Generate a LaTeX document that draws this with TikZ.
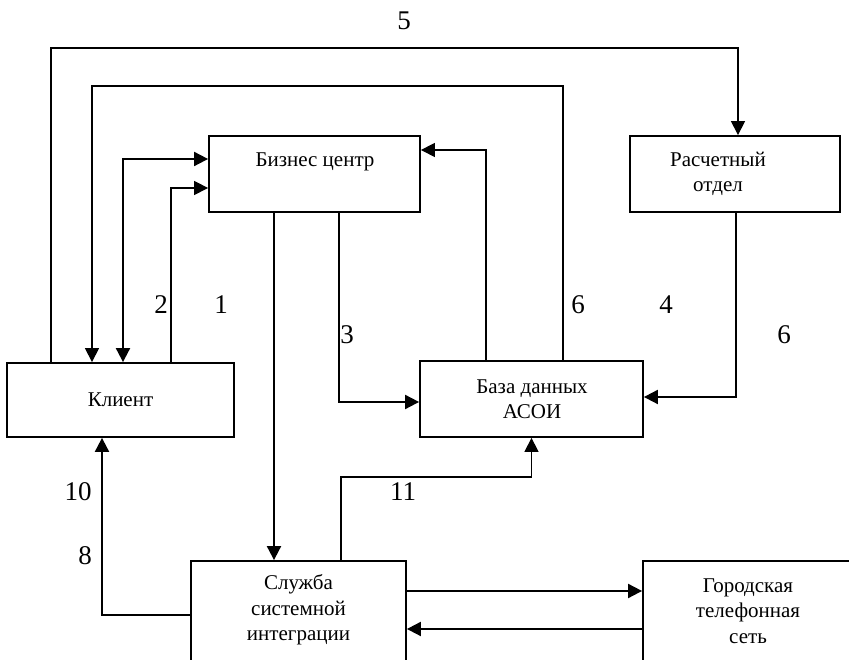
\documentclass[tikz,border=0pt]{standalone}
\usepackage{fontspec}
\setmainfont{Liberation Serif}
\usetikzlibrary{arrows.meta}
\begin{document}
\begin{tikzpicture}[x=1pt,y=1pt,
  box/.style={draw,line width=1.8pt,rectangle,inner sep=0pt},
  boxtext/.style={align=center,font=\fontsize{21}{25.5}\selectfont,inner sep=0pt},
  num/.style={font=\fontsize{27}{30}\selectfont,inner sep=0pt},
  tip/.style={-{Triangle[length=14pt,width=14pt]}},
  bitip/.style={{Triangle[length=14pt,width=14pt]}-{Triangle[length=14pt,width=14pt]}},
  thinln/.style={line width=1.3pt},
  thickln/.style={line width=1.9pt}]
\clip (0,0) rectangle (849,660);
\fill[white] (0,0) rectangle (849,660);

% blocks
\node[box,minimum width=227pt,minimum height=74pt] (kl) at (120.5,260) {};
\node[box,minimum width=211pt,minimum height=76pt] (bz) at (314.5,486) {};
\node[box,minimum width=210pt,minimum height=76pt] (rs) at (735,486) {};
\node[box,minimum width=223pt,minimum height=76pt] (bd) at (531.5,261) {};
\node[box,minimum width=215pt,minimum height=139pt] (sl) at (298.5,29.5) {};
\node[box,minimum width=257pt,minimum height=139pt] (gr) at (771.5,29.5) {};

% block captions
\node[boxtext] (klt) at (120.5,260) {Клиент};
\node[boxtext] (bzt) at (315,498) {Бизнес центр};
\node[boxtext] (rst) at (718,486) {Расчетный\\отдел};
\node[boxtext] (bdt) at (532,261) {База данных\\АСОИ};
\node[boxtext] (slt) at (298.5,50) {Служба\\системной\\интеграции};
\node[boxtext] (grt) at (748,49) {Городская\\телефонная\\сеть};

% flows
\draw[thinln,tip] ([xshift=-69.5pt]kl.north) -- ++(0,314) -| ([xshift=3pt]rs.north);
\draw[thinln,tip] ([xshift=31.5pt]bd.north) -- ++(0,274) -| ([xshift=-28.5pt]kl.north);
\draw[thickln,bitip] ([xshift=2.5pt]kl.north) |- ([yshift=15pt]bz.west);
\draw[thinln,tip] ([xshift=50.5pt]kl.north) |- ([yshift=-14pt]bz.west);
\draw[thickln,tip] ([xshift=-40.5pt]bz.south) -- ([xshift=-24.5pt]sl.north);
\draw[thickln,tip] ([xshift=24.5pt]bz.south) |- ([yshift=-3pt]bd.west);
\draw[thinln,tip] ([xshift=-45.5pt]bd.north) |- ([yshift=24pt]bz.east);
\draw[thickln,tip] ([xshift=1pt]rs.south) |- ([yshift=2pt]bd.east);
\draw[thinln,tip] ([xshift=42.5pt]sl.north) -- ++(0,83) -| (bd.south);
\draw[thickln,tip] ([yshift=15.5pt]sl.west) -| ([xshift=-18.5pt]kl.south);
\draw[thickln,tip] ([yshift=39.5pt]sl.east) -- ([yshift=39.5pt]gr.west);
\draw[thickln,tip] ([yshift=1.5pt]gr.west) -- ([yshift=1.5pt]sl.east);

% flow numbers
\node[num] (n5) at (404,639) {5};
\node[num] (n2) at (161,355) {2};
\node[num] (n1) at (221,355) {1};
\node[num] (n3) at (347,325) {3};
\node[num] (n6a) at (578,355) {6};
\node[num] (n4) at (666,355) {4};
\node[num] (n6b) at (784,325) {6};
\node[num] (n10) at (78,168) {10};
\node[num] (n8) at (85,104) {8};
\node[num] (n11) at (403,168) {11};
\end{tikzpicture}
\end{document}
